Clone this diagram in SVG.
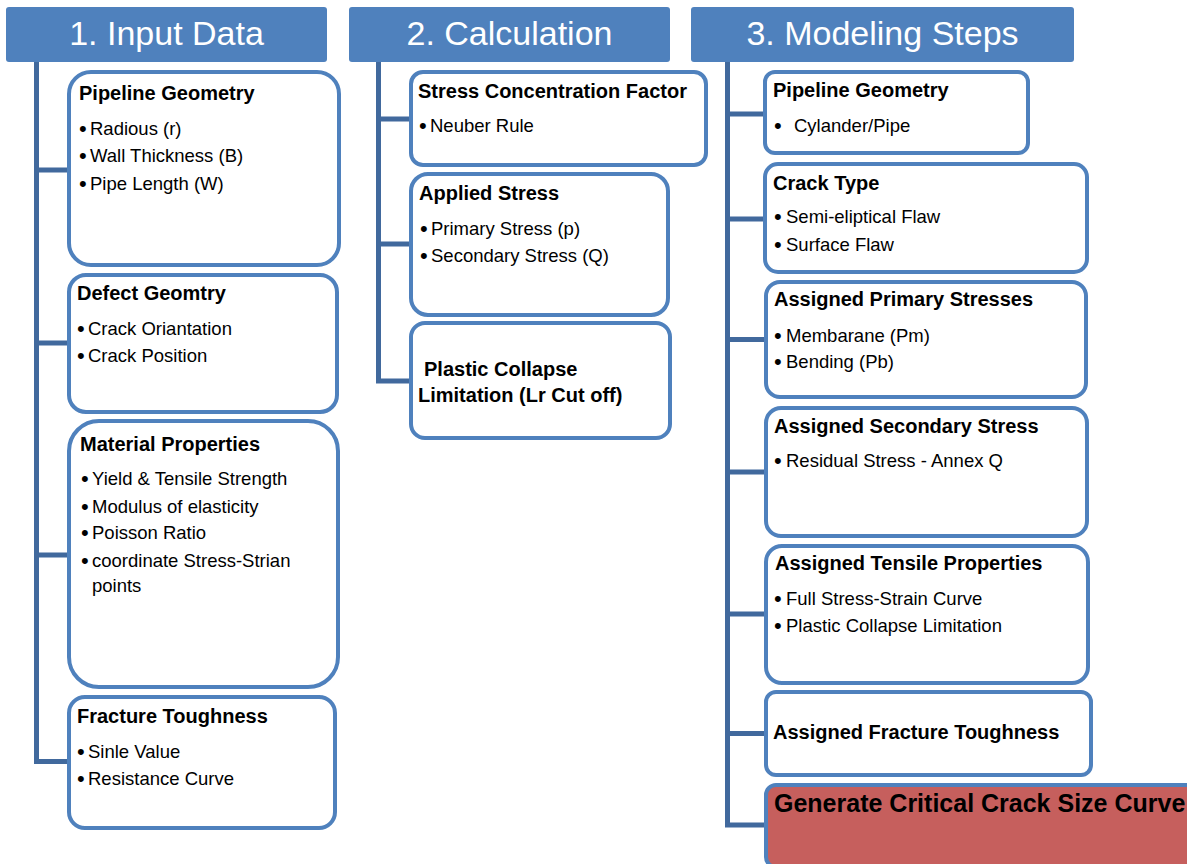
<svg xmlns="http://www.w3.org/2000/svg" width="1187" height="864" viewBox="0 0 1187 864">
<style>
.hdr{fill:#4F81BD}
.htxt{font-family:"Liberation Sans",Arial,sans-serif;font-size:34px;fill:#ffffff;text-anchor:middle}
.box{fill:#ffffff;stroke:#4F81BD;stroke-width:4}
.red{fill:#C65F5D;stroke:#4F81BD;stroke-width:4}
.t{font-family:"Liberation Sans",Arial,sans-serif;font-size:20px;font-weight:bold;fill:#000}
.b{font-family:"Liberation Sans",Arial,sans-serif;font-size:18.5px;fill:#000}
.u{font-family:"Liberation Sans",Arial,sans-serif;font-size:22px;fill:#000}
.big{font-family:"Liberation Sans",Arial,sans-serif;font-size:25px;font-weight:bold;fill:#000}
.con{fill:none;stroke:#41699D;stroke-width:5;stroke-linejoin:miter}
</style>
<rect width="1187" height="864" fill="#ffffff"/>
<g id="connectors">
<path class="con" d="M36.5,62 V761.5 H69 M36.5,170 H69 M36.5,343 H69 M36.5,555 H69"/>
<path class="con" d="M378.5,62 V381 H411 M378.5,119 H411 M378.5,244 H411"/>
<path class="con" d="M727.5,62 V825 H766 M727.5,114 H765 M727.5,219 H765 M727.5,339.5 H766 M727.5,472 H766 M727.5,614 H766 M727.5,733.5 H766"/>
</g>
<g id="header1"><rect class="hdr" x="6" y="7" width="321" height="55" rx="3"/><text class="htxt" x="166.5" y="45">1. Input Data</text></g>
<g id="header2"><rect class="hdr" x="349" y="7" width="321" height="55" rx="3"/><text class="htxt" x="509.5" y="45">2. Calculation</text></g>
<g id="header3"><rect class="hdr" x="691" y="7" width="383" height="55" rx="3"/><text class="htxt" x="882.5" y="45">3. Modeling Steps</text></g>

<g id="pipeline-geometry-1"><rect class="box" x="69" y="72" width="270" height="193" rx="22"/>
<text class="t" x="79" y="100">Pipeline Geometry</text>
<text class="u" x="79" y="136">•</text><text class="b" x="90" y="135">Radious (r)</text>
<text class="u" x="79" y="163">•</text><text class="b" x="90" y="162">Wall Thickness (B)</text>
<text class="u" x="79" y="191">•</text><text class="b" x="90" y="190">Pipe Length (W)</text></g>

<g id="defect-geometry"><rect class="box" x="69" y="275" width="268" height="137" rx="17"/>
<text class="t" x="77" y="300">Defect Geomtry</text>
<text class="u" x="77" y="336">•</text><text class="b" x="88" y="335">Crack Oriantation</text>
<text class="u" x="77" y="363">•</text><text class="b" x="88" y="362">Crack Position</text></g>

<g id="material-properties"><rect class="box" x="69" y="421" width="269" height="266" rx="30"/>
<text class="t" x="80" y="451">Material Properties</text>
<text class="u" x="81" y="486">•</text><text class="b" x="92" y="485">Yield &amp; Tensile Strength</text>
<text class="u" x="81" y="514">•</text><text class="b" x="92" y="513">Modulus of elasticity</text>
<text class="u" x="81" y="540">•</text><text class="b" x="92" y="539">Poisson Ratio</text>
<text class="u" x="81" y="568">•</text><text class="b" x="92" y="567">coordinate Stress-Strian</text>
<text class="b" x="92" y="592">points</text></g>

<g id="fracture-toughness"><rect class="box" x="69" y="697" width="266" height="131" rx="16"/>
<text class="t" x="77" y="723">Fracture Toughness</text>
<text class="u" x="77" y="759">•</text><text class="b" x="88" y="758">Sinle Value</text>
<text class="u" x="77" y="786">•</text><text class="b" x="88" y="785">Resistance Curve</text></g>

<g id="stress-concentration"><rect class="box" x="411" y="72" width="295" height="93" rx="12"/>
<text class="t" x="418" y="98">Stress Concentration Factor</text>
<text class="u" x="419" y="133">•</text><text class="b" x="430" y="132">Neuber Rule</text></g>

<g id="applied-stress"><rect class="box" x="411" y="174" width="257" height="141" rx="17"/>
<text class="t" x="419" y="200">Applied Stress</text>
<text class="u" x="420" y="236">•</text><text class="b" x="431" y="235">Primary Stress (p)</text>
<text class="u" x="420" y="263">•</text><text class="b" x="431" y="262">Secondary Stress (Q)</text></g>

<g id="plastic-collapse"><rect class="box" x="411" y="323" width="259" height="115" rx="14"/>
<text class="t" x="424" y="376">Plastic Collapse</text>
<text class="t" x="418" y="402">Limitation (Lr Cut off)</text></g>

<g id="pipeline-geometry-3"><rect class="box" x="765" y="72" width="263" height="81" rx="10"/>
<text class="t" x="773" y="97">Pipeline Geometry</text>
<text class="u" x="774" y="133">•</text>
<text class="b" x="794" y="132">Cylander/Pipe</text></g>

<g id="crack-type"><rect class="box" x="765" y="164" width="322" height="108" rx="13"/>
<text class="t" x="773" y="190">Crack Type</text>
<text class="u" x="774" y="224">•</text><text class="b" x="786" y="223">Semi-eliptical Flaw</text>
<text class="u" x="774" y="252">•</text><text class="b" x="786" y="251">Surface Flaw</text></g>

<g id="assigned-primary"><rect class="box" x="766" y="282" width="320" height="115" rx="14"/>
<text class="t" x="774" y="306">Assigned Primary Stresses</text>
<text class="u" x="774" y="343">•</text><text class="b" x="786" y="342">Membarane (Pm)</text>
<text class="u" x="774" y="369">•</text><text class="b" x="786" y="368">Bending (Pb)</text></g>

<g id="assigned-secondary"><rect class="box" x="766" y="408" width="321" height="128" rx="15"/>
<text class="t" x="774" y="433">Assigned Secondary Stress</text>
<text class="u" x="774" y="468">•</text><text class="b" x="786" y="467">Residual Stress - Annex Q</text></g>

<g id="assigned-tensile"><rect class="box" x="766" y="546" width="322" height="137" rx="16"/>
<text class="t" x="775" y="570">Assigned Tensile Properties</text>
<text class="u" x="774" y="606">•</text><text class="b" x="786" y="605">Full Stress-Strain Curve</text>
<text class="u" x="774" y="633">•</text><text class="b" x="786" y="632">Plastic Collapse Limitation</text></g>

<g id="assigned-fracture"><rect class="box" x="766" y="692" width="325" height="83" rx="10"/>
<text class="t" x="773" y="739">Assigned Fracture Toughness</text></g>

<g id="generate-curve"><rect class="red" x="766" y="785" width="450" height="82" rx="10"/>
<text class="big" x="774" y="812">Generate Critical Crack Size Curve</text></g>
</svg>
